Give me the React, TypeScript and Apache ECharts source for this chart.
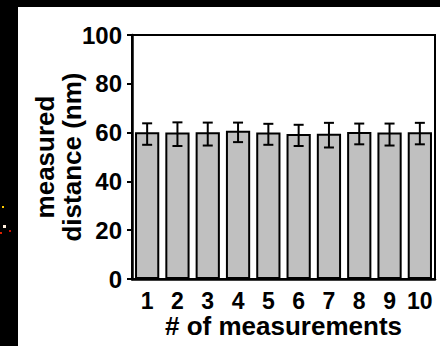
import React, { useEffect, useRef } from "react";
import * as echarts from "echarts";

const categories = ["1", "2", "3", "4", "5", "6", "7", "8", "9", "10"];
const means = [60.1, 60.0, 60.1, 60.8, 60.0, 59.4, 59.5, 60.2, 60.0, 60.1];
const errLow = [55.0, 54.5, 54.7, 56.1, 55.0, 54.5, 53.9, 55.2, 54.7, 55.2];
const errHigh = [63.8, 64.2, 64.1, 64.1, 63.6, 63.2, 64.0, 63.7, 63.7, 64.0];
const yTicks = { min: 0, max: 100, interval: 20 };
const xTitle = "# of measurements";
const yTitle = "measured\ndistance (nm)";

const FONT = "'Liberation Sans', Arial, sans-serif";

export default function App() {
  const ref = useRef<HTMLDivElement>(null);
  useEffect(() => {
    if (!ref.current) return;
    const chart = echarts.init(ref.current, undefined, { renderer: "svg" });
    const errData = categories.map((_, i) => [i, errLow[i], errHigh[i]]);
    chart.setOption({
      animation: false,
      backgroundColor: "#000",
      graphic: [
        {
          type: "rect",
          shape: { x: 18, y: 7, width: 422, height: 339 },
          style: { fill: "#fff" },
          z: -10,
          silent: true,
        },
        { type: "rect", shape: { x: 2, y: 206, width: 2, height: 2 }, style: { fill: "#ffcc00" } },
        { type: "rect", shape: { x: 3, y: 225, width: 3, height: 3 }, style: { fill: "#ffeedd" } },
        { type: "rect", shape: { x: 0, y: 232, width: 2, height: 2 }, style: { fill: "#dd2200" } },
        { type: "rect", shape: { x: 9, y: 230, width: 2, height: 2 }, style: { fill: "#cc1100" } },
      ],
      grid: {
        left: 132,
        right: 5,
        top: 35,
        bottom: 67,
        show: true,
        borderColor: "#000",
        borderWidth: 2,
        backgroundColor: "#fff",
      },
      xAxis: {
        type: "category",
        data: categories,
        name: xTitle,
        nameLocation: "middle",
        nameGap: 34,
        nameMoveOverlap: false,
        nameTextStyle: { fontFamily: FONT, fontWeight: "bold", fontSize: 26, color: "#000", lineHeight: 26 },
        axisLine: { lineStyle: { color: "#000", width: 2.5 } },
        axisTick: { alignWithLabel: true, length: 5, lineStyle: { color: "#000", width: 2 } },
        axisLabel: {
          fontFamily: FONT,
          fontWeight: "bold",
          fontSize: 23,
          color: "#000",
          margin: 10,
          lineHeight: 23,
          interval: 0,
        },
      },
      yAxis: {
        type: "value",
        min: yTicks.min,
        max: yTicks.max,
        interval: yTicks.interval,
        name: yTitle,
        nameLocation: "middle",
        nameGap: 47,
        nameMoveOverlap: false,
        nameTextStyle: { fontFamily: FONT, fontWeight: "bold", fontSize: 26, color: "#000", lineHeight: 27 },
        axisLine: { show: true, lineStyle: { color: "#000", width: 2.5 } },
        axisTick: { show: true, length: 5, lineStyle: { color: "#000", width: 2 } },
        axisLabel: { fontFamily: FONT, fontWeight: "bold", fontSize: 24, color: "#000", margin: 10 },
        splitLine: { show: false },
      },
      series: [
        {
          type: "bar",
          data: means,
          barWidth: "80%",
          itemStyle: { color: "#c0c0c0", borderColor: "#000", borderWidth: 2 },
        },
        {
          type: "custom",
          data: errData,
          z: 5,
          renderItem: (params: any, api: any) => {
            const x = api.value(0);
            const lo = api.coord([x, api.value(1)]);
            const hi = api.coord([x, api.value(2)]);
            const hw = 5;
            const style = { stroke: "#000", lineWidth: 2 };
            return {
              type: "group",
              children: [
                { type: "line", shape: { x1: lo[0], y1: lo[1], x2: hi[0], y2: hi[1] }, style },
                { type: "line", shape: { x1: hi[0] - hw, y1: hi[1], x2: hi[0] + hw, y2: hi[1] }, style },
                { type: "line", shape: { x1: lo[0] - hw, y1: lo[1], x2: lo[0] + hw, y2: lo[1] }, style },
              ],
            };
          },
        },
      ],
    });
    return () => chart.dispose();
  }, []);
  return (
    <div
      ref={ref}
      style={{ position: "absolute", left: 0, top: 0, width: 440, height: 346 }}
    />
  );
}
